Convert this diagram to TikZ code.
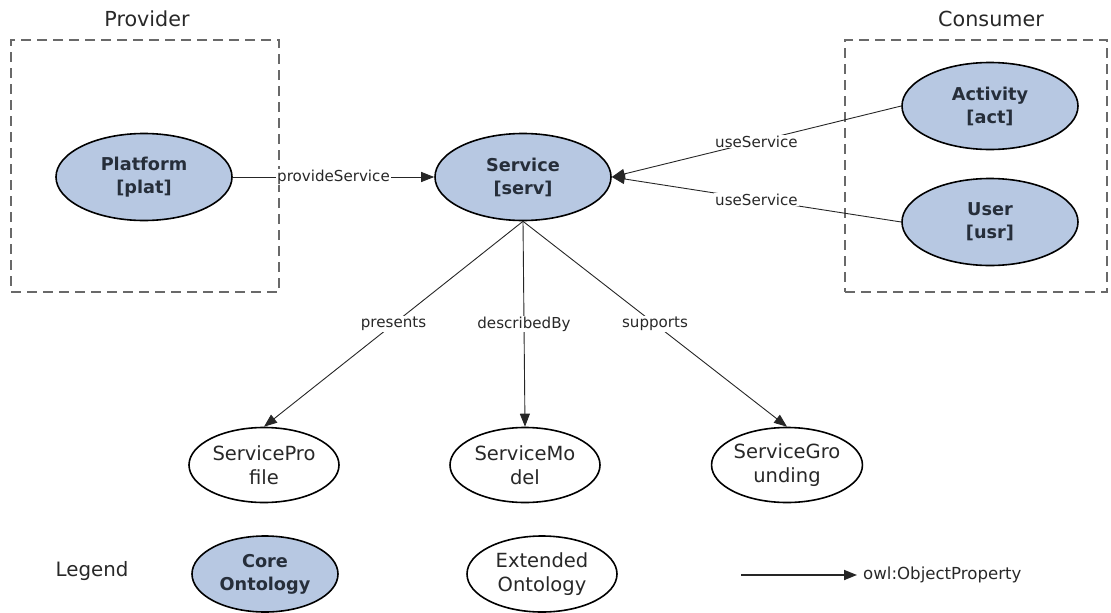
\documentclass[tikz,border=0pt]{standalone}
\usepackage{fontspec}
\setmainfont{DejaVu Sans}
\usetikzlibrary{shapes.geometric,arrows.meta}
\definecolor{corefill}{RGB}{183,200,226}
\definecolor{coretext}{RGB}{38,46,58}
\definecolor{boxgray}{RGB}{105,105,105}
\definecolor{inktext}{RGB}{40,40,40}
\begin{document}
\begin{tikzpicture}[x=1pt,y=-1pt,
  core/.style={ellipse, draw=black, line width=1.6pt, fill=corefill, text=coretext,
    minimum width=176pt, minimum height=87pt, inner sep=0pt, align=center,
    font=\fontsize{17.7}{23}\selectfont\bfseries},
  ext/.style={ellipse, draw=black, line width=1.6pt, fill=white, text=inktext,
    minimum width=150pt, minimum height=75pt, inner sep=0pt, align=center,
    font=\fontsize{19.5}{24}\selectfont},
  rel/.style={-{Triangle[length=13pt,width=10pt]}, line width=0.9pt, draw=black!85},
  lbl/.style={fill=white, inner sep=1pt, text=inktext, font=\fontsize{15.1}{18}\selectfont},
  grp/.style={draw=boxgray, line width=1.8pt, dash pattern=on 10pt off 6pt,
    inner sep=0pt},
  title/.style={text=inktext, font=\fontsize{20.7}{24}\selectfont}]
\useasboundingbox (0,0) rectangle (1111,613);

% provider and consumer groups
\node[grp, minimum width=268pt, minimum height=252pt] (provbox) at (145,166) {};
\node[grp, minimum width=262pt, minimum height=252pt] (consbox) at (976,166) {};
\node[title] (provtitle) at (147,19) {Provider};
\node[title] (constitle) at (991,19) {Consumer};

% core classes
\node[core] (plat) at (144,177) {Platform\\{[plat]}};
\node[core] (serv) at (523,177) {Service\\{[serv]}};
\node[core] (act)  at (990,106) {Activity\\{[act]}};
\node[core] (usr)  at (990,222) {User\\{[usr]}};

% extended classes
\node[ext] (prof)   at (264,465) {ServicePro\\file};
\node[ext] (model)  at (525,465) {ServiceMo\\del};
\node[ext] (ground) at (787,465) {ServiceGro\\unding};

% object properties
\draw[rel] (plat) -- node[lbl] {provideService} (serv);
\draw[rel] (act.west) -- node[lbl] {useService} (serv.east);
\draw[rel] (usr.west) -- node[lbl] {useService} (serv.east);
\draw[rel] (serv.south) -- node[lbl] {presents} (prof.north);
\draw[rel] (serv.south) -- node[lbl] {describedBy} (model.north);
\draw[rel] (serv.south) -- node[lbl] {supports} (ground.north);

% legend
\node[text=inktext, font=\fontsize{19.8}{24}\selectfont] (legend) at (92,571) {Legend};
\node[core, minimum width=146pt, minimum height=76pt] (corekey) at (265,574) {Core\\Ontology};
\node[ext, minimum width=150pt, minimum height=76pt] (extkey) at (542,574) {Extended\\Ontology};
\coordinate (keyA) at (741,575);
\coordinate (keyB) at (857,575);
\draw[rel, line width=1.8pt] (keyA) -- (keyB);
\node[anchor=west, inner sep=0pt, text=inktext, font=\fontsize{16.6}{19}\selectfont] (owl) at (863,575) {owl:ObjectProperty};
\end{tikzpicture}
\end{document}
